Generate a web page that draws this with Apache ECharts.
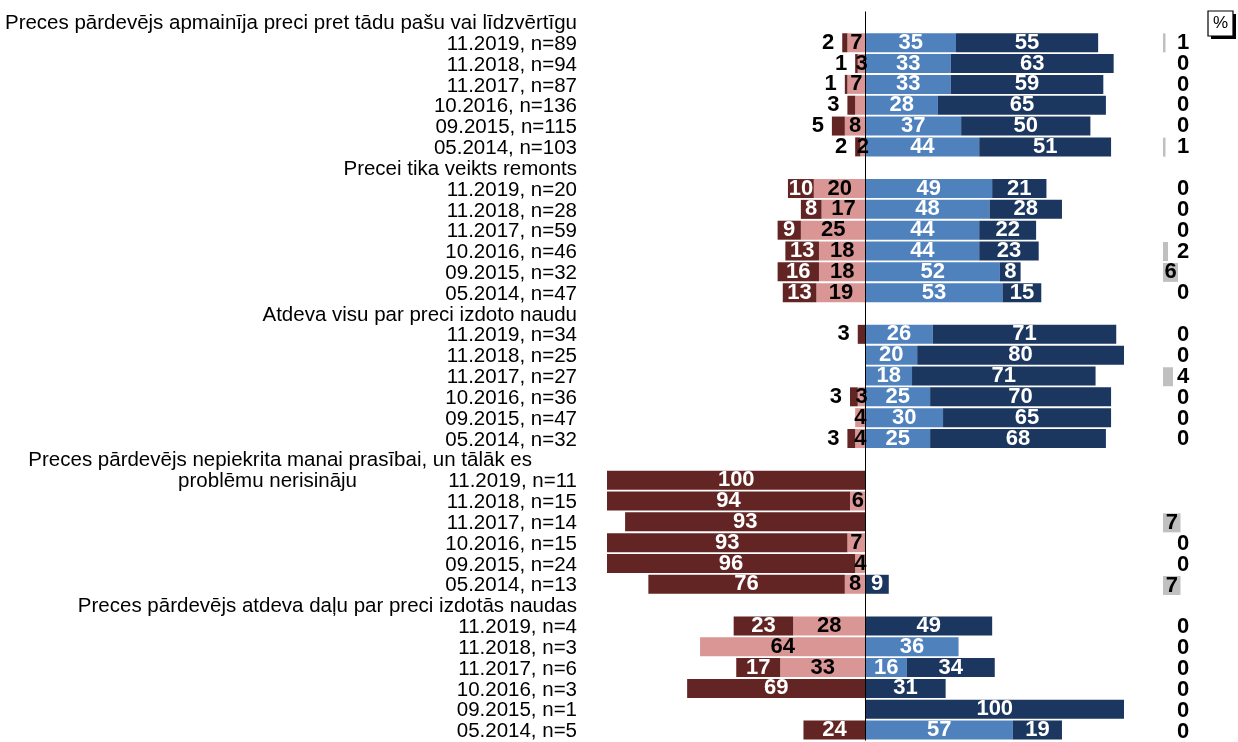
<!DOCTYPE html>
<html><head><meta charset="utf-8">
<script src="https://cdn.jsdelivr.net/npm/echarts@6/dist/echarts.min.js"></script>
<style>html,body{margin:0;padding:0;background:#fff}#c{width:1238px;height:742px}</style>
</head><body><div id="c"></div>
<script>
const categories = [
 'Preces pārdevējs apmainīja preci pret tādu pašu vai līdzvērtīgu',
 '11.2019, n=89','11.2018, n=94','11.2017, n=87','10.2016, n=136','09.2015, n=115','05.2014, n=103',
 'Precei tika veikts remonts',
 '11.2019, n=20','11.2018, n=28','11.2017, n=59','10.2016, n=46','09.2015, n=32','05.2014, n=47',
 'Atdeva visu par preci izdoto naudu',
 '11.2019, n=34','11.2018, n=25','11.2017, n=27','10.2016, n=36','09.2015, n=47','05.2014, n=32',
 'Preces pārdevējs nepiekrita manai prasībai, un tālāk es\nproblēmu nerisināju',
 '11.2019, n=11','11.2018, n=15','11.2017, n=14','10.2016, n=15','09.2015, n=24','05.2014, n=13',
 'Preces pārdevējs atdeva daļu par preci izdotās naudas',
 '11.2019, n=4','11.2018, n=3','11.2017, n=6','10.2016, n=3','09.2015, n=1','05.2014, n=5'
];
const H = null;
const veryDissatisfied   = [H,2,1,1,3,5,2, H,10,8,9,13,16,13, H,3,0,0,3,0,3, H,100,94,93,93,96,76, H,23,0,17,69,0,24];
const ratherDissatisfied = [H,7,3,7,4,8,2, H,20,17,25,18,18,19, H,0,0,0,3,4,4, H,0,6,0,7,4,8, H,28,64,33,0,0,0];
const ratherSatisfied    = [H,35,33,33,28,37,44, H,49,48,44,44,52,53, H,26,20,18,25,30,25, H,0,0,0,0,0,0, H,0,36,16,0,0,57];
const verySatisfied      = [H,55,63,59,65,50,51, H,21,28,22,23,8,15, H,71,80,71,70,65,68, H,0,0,0,0,0,9, H,49,0,34,31,100,19];
const hardToSay          = [H,1,0,0,0,0,1, H,0,0,0,2,6,0, H,0,0,4,0,0,0, H,H,H,7,0,0,7, H,0,0,0,0,0,0];
// row whose light-red value carries no label in the original
const unlabelledLightRedRows = [4];

const COLORS = {vd:'#632523', rd:'#d99694', rs:'#4f81bd', vs:'#1b365f', na:'#c0c0c0'};
const valFont = {fontFamily:"'Liberation Sans Narrow','Arial Narrow','Liberation Sans',Arial,sans-serif", fontWeight:'bold', fontSize:22};
const catFont = "'Liberation Sans',Arial,Helvetica,sans-serif";
const CAT_SIZE = 20.5;

function fmtAbs(p){ return Math.abs(p.value); }

const serPink = {
  name:'rd', type:'bar', stack:'a', barWidth:19, itemStyle:{color:COLORS.rd},
  data: ratherDissatisfied.map((v,i)=> v==null? null : ({value:-v, label:{show: v>0 && unlabelledLightRedRows.indexOf(i)<0}})),
  label:Object.assign({position:'inside', color:'#000', formatter:fmtAbs}, valFont)
};
const serDark = {
  name:'vd', type:'bar', stack:'a', barWidth:19, itemStyle:{color:COLORS.vd},
  data: veryDissatisfied.map(v=> v==null? null : ({value:-v, label: v>=6 ? {show:true, position:'inside', color:'#fff'} : {show:v>0, position:'left', distance:8, color:'#000'}})),
  label:Object.assign({formatter:fmtAbs}, valFont)
};
const serLB = {
  name:'rs', type:'bar', stack:'a', barWidth:19, itemStyle:{color:COLORS.rs},
  data: ratherSatisfied.map(v=> v==null? null : ({value:v, label:{show:v>0}})),
  label:Object.assign({position:'inside', color:'#fff'}, valFont),
  markLine:{silent:true, symbol:['none','none'], animation:false, label:{show:false},
    lineStyle:{color:'#000', width:1, type:'solid'}, data:[{xAxis:0}]}
};
const serDB = {
  name:'vs', type:'bar', stack:'a', barWidth:19, itemStyle:{color:COLORS.vs},
  data: verySatisfied.map(v=> v==null? null : ({value:v, label:{show:v>0}})),
  label:Object.assign({position:'inside', color:'#fff'}, valFont)
};
const serNA = {
  name:'na', type:'bar', xAxisIndex:1, yAxisIndex:1, barWidth:19, itemStyle:{color:COLORS.na},
  data: hardToSay.map(v=> v==null? null : ({value:v, label: v>=6 ? {show:true, position:'inside'} : {show:true, position:[14,'50%'], align:'left', verticalAlign:'middle'}})),
  label:Object.assign({color:'#000'}, valFont)
};

const chart = echarts.init(document.getElementById('c'), null, {renderer:'canvas'});
chart.setOption({
  animation:false,
  grid:[{left:607, top:11.5, width:517, height:735}, {left:1163, top:11.5, width:77.6, height:735}],
  xAxis:[{type:'value', min:-100, max:100, show:false, gridIndex:0},
         {type:'value', min:0, max:30, show:false, gridIndex:1}],
  yAxis:[{type:'category', inverse:true, data:categories, gridIndex:0,
          axisLine:{show:false}, axisTick:{show:false}, splitLine:{show:false},
          axisLabel:{interval:0, margin:30, color:'#000', fontFamily:catFont, fontSize:CAT_SIZE, padding:[3,0,0,0],
            formatter:function(v){
              if (v.indexOf('\n')<0) return v;
              const parts = v.split('\n');
              return '{s| }\n{a|'+parts[0]+'}\n{b|'+parts[1]+'}';
            },
            rich:{
              s:{fontFamily:catFont, fontSize:CAT_SIZE, lineHeight:21, color:'#000'},
              a:{fontFamily:catFont, fontSize:CAT_SIZE, lineHeight:21, color:'#000', padding:[0,45,0,0]},
              b:{fontFamily:catFont, fontSize:CAT_SIZE, lineHeight:21, color:'#000', padding:[0,220,0,0]}
            }}},
         {type:'category', inverse:true, data:categories, gridIndex:1, show:false}],
  series:[serPink, serDark, serLB, serDB, serNA],
  graphic:[
    {type:'rect', shape:{x:1211, y:14, width:25, height:25}, style:{fill:'#000'}},
    {type:'rect', shape:{x:1208, y:11, width:25, height:25}, style:{fill:'#fff', stroke:'#000', lineWidth:1.2}},
    {type:'text', x:1220.5, y:23.5, style:{text:'%', fill:'#000', font:"17px "+catFont, align:'center', verticalAlign:'middle'}}
  ]
});
</script></body></html>
